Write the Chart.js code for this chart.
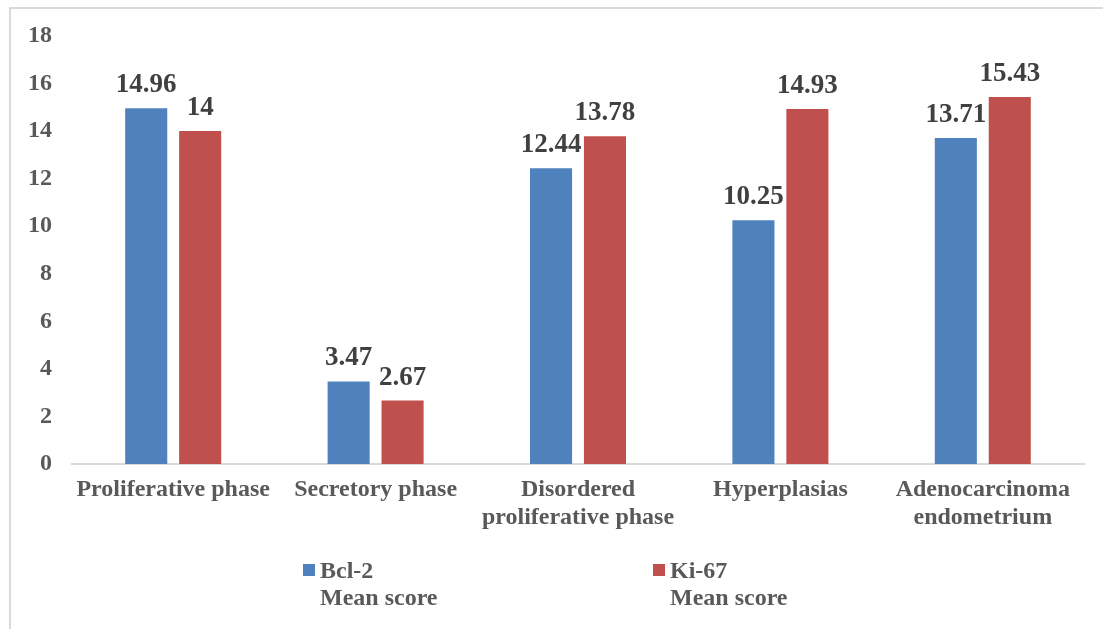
<!DOCTYPE html>
<html>
<head>
<meta charset="utf-8">
<style>
  html, body { margin: 0; padding: 0; background: #fff; }
  #wrap { position: relative; width: 1103px; height: 629px; }
</style>
<script src="https://cdn.jsdelivr.net/npm/chart.js@4/dist/chart.umd.min.js"></script>
</head>
<body>
<div id="wrap"><canvas id="chart" width="1103" height="629"></canvas></div>
<script>
const categories = [
  "Proliferative phase",
  "Secretory phase",
  ["Disordered", "proliferative phase"],
  "Hyperplasias",
  ["Adenocarcinoma", "endometrium"]
];
const bcl2 = [14.96, 3.47, 12.44, 10.25, 13.71];
const ki67 = [14, 2.67, 13.78, 14.93, 15.43];
const seriesNames = [["Bcl-2", "Mean score"], ["Ki-67", "Mean score"]];
const colors = ["#4f81bd", "#c0504d"];

const FONT = "'Liberation Serif', 'Times New Roman', serif";

// etiquetas de valor encima de cada barra
const valueLabels = {
  id: "valueLabels",
  afterDatasetsDraw(chart) {
    const ctx = chart.ctx;
    ctx.save();
    ctx.font = "bold 27px " + FONT;
    ctx.fillStyle = "#404040";
    ctx.textAlign = "center";
    ctx.textBaseline = "alphabetic";
    chart.data.datasets.forEach((ds, i) => {
      chart.getDatasetMeta(i).data.forEach((bar, j) => {
        ctx.fillText(String(ds.data[j]), bar.x, bar.y - 16);
      });
    });
    ctx.restore();
  }
};

// marco y leyenda de dos líneas
const frameLegend = {
  id: "frameLegend",
  beforeDraw(chart) {
    const ctx = chart.ctx;
    ctx.save();
    ctx.strokeStyle = "#d9d9d9";
    ctx.lineWidth = 2;
    ctx.beginPath();
    ctx.moveTo(10, chart.height);
    ctx.lineTo(10, 8);
    ctx.lineTo(chart.width, 8);
    ctx.stroke();
    ctx.restore();
  },
  afterDraw(chart) {
    const ctx = chart.ctx;
    const starts = [303, 653];
    ctx.save();
    ctx.font = "bold 24px " + FONT;
    ctx.textBaseline = "alphabetic";
    seriesNames.forEach((lines, i) => {
      const x = starts[i];
      ctx.fillStyle = colors[i];
      ctx.fillRect(x, 564, 12, 12);
      ctx.fillStyle = "#595959";
      lines.forEach((t, k) => ctx.fillText(t, x + 17, 578 + k * 27));
    });
    ctx.restore();
  }
};

new Chart(document.getElementById("chart"), {
  type: "bar",
  data: {
    labels: categories,
    datasets: [
      { label: "Bcl-2 Mean score", data: bcl2, backgroundColor: colors[0] },
      { label: "Ki-67 Mean score", data: ki67, backgroundColor: colors[1] }
    ]
  },
  options: {
    responsive: false,
    animation: false,
    layout: { padding: { left: 10, right: 19, top: 36, bottom: 65 } },
    datasets: { bar: { categoryPercentage: 0.533, barPercentage: 0.78 } },
    plugins: { legend: { display: false }, tooltip: { enabled: false } },
    scales: {
      x: {
        grid: { display: false, drawTicks: false },
        border: { display: true, color: "#d9d9d9", width: 2 },
        ticks: {
          color: "#595959",
          font: { family: FONT, size: 24, weight: "bold", lineHeight: 1.2 },
          padding: 11,
          maxRotation: 0,
          autoSkip: false
        },
        afterFit(axis) { axis.height = 100; }
      },
      y: {
        min: 0,
        max: 18,
        grid: { display: false, drawTicks: false },
        border: { display: false },
        ticks: {
          stepSize: 2,
          color: "#595959",
          font: { family: FONT, size: 24, weight: "bold" },
          padding: 20
        },
        afterFit(axis) { axis.width = 62; }
      }
    }
  },
  plugins: [valueLabels, frameLegend]
});
</script>
</body>
</html>
